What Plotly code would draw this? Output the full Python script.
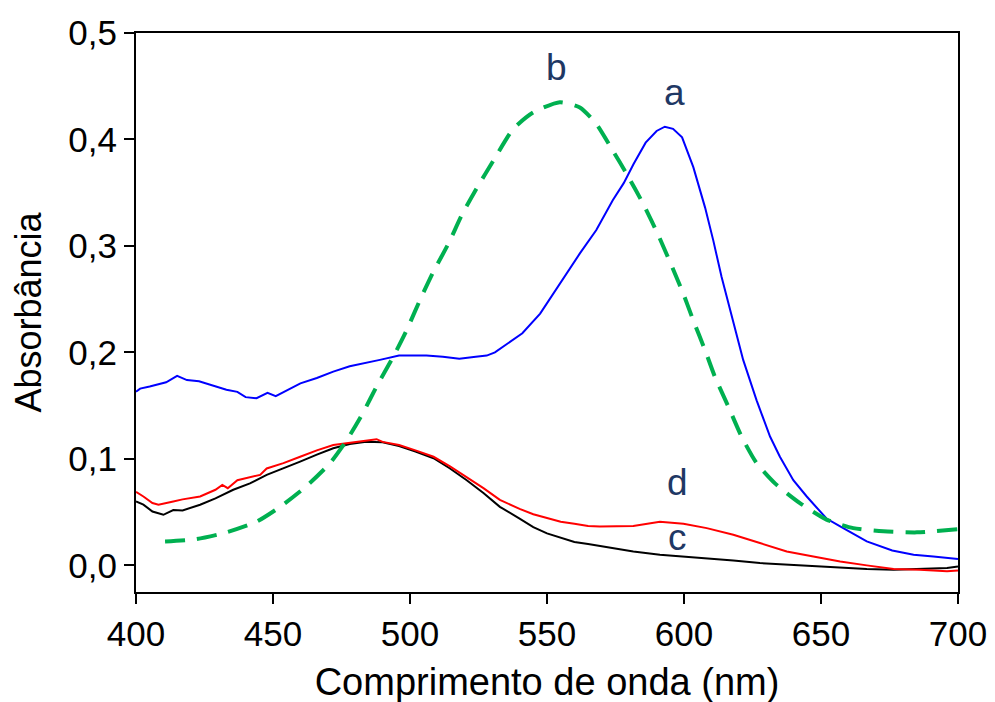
import plotly.graph_objects as go

# Curve a (blue)
a_x = [400, 401.5, 405, 411, 415, 418.6, 423, 428, 433, 437, 440, 444, 448, 451, 456, 460, 466, 472, 478, 484,
       489, 496, 502, 506, 512, 518, 524, 528, 531, 535, 541, 547.5, 554.7, 562, 568, 574, 578, 581.6, 586, 590,
       593, 596, 599.3, 603.4, 607.7, 610.7, 613.7, 618, 621.6, 626.5, 631.4, 635, 639.9, 644.8, 649, 652,
       657, 666.7, 676, 683.8, 691, 700]
a_y = [0.163, 0.166, 0.168, 0.172, 0.178, 0.174, 0.173, 0.169, 0.165, 0.163, 0.158, 0.157, 0.162, 0.159, 0.166,
       0.171, 0.176, 0.182, 0.187, 0.190, 0.193, 0.197, 0.197, 0.197, 0.196, 0.194, 0.196, 0.197, 0.200, 0.207,
       0.218, 0.2365, 0.2647, 0.293, 0.315, 0.343, 0.359, 0.377, 0.397, 0.408, 0.412, 0.410, 0.402, 0.374,
       0.336, 0.305, 0.271, 0.227, 0.193, 0.155, 0.121, 0.102, 0.080, 0.0647, 0.052, 0.044, 0.0366, 0.0225,
       0.014, 0.010, 0.0084, 0.006]

# Curve b (green dashed)
b_x = [410.6, 422, 433, 444, 452.6, 462, 470.8, 477, 483, 487.8, 493.9, 498.8, 503.6, 508.5, 514, 518.9, 524.3,
       530.4, 537.7, 545, 554.7, 562, 568, 574, 579, 585, 591, 599.3, 603.4, 607.7, 611.3, 616.2, 621, 626.5,
       633.2, 642.3, 652, 661.8, 672.8, 685, 700]
b_y = [0.0225, 0.0247, 0.031, 0.041, 0.055, 0.074, 0.096, 0.118, 0.144, 0.168, 0.196, 0.221, 0.249, 0.2756,
       0.302, 0.329, 0.354, 0.380, 0.410, 0.4255, 0.435, 0.430, 0.4146, 0.3896, 0.368, 0.340, 0.308, 0.258,
       0.230, 0.202, 0.177, 0.149, 0.121, 0.096, 0.077, 0.0585, 0.043, 0.035, 0.032, 0.031, 0.034]

# Curve c (black)
c_x = [400, 402.7, 406, 410, 413.6, 417, 423.4, 429, 435.5, 441.6, 447.7, 453.8, 459.9, 466, 472, 478, 484, 490,
       496, 502, 508.6, 514.6, 520.7, 526.8, 532.8, 540, 545, 550, 555, 560, 565, 569.3, 581.5, 591.2, 599.8,
       608.3, 618, 627.7, 637.5, 647.2, 657, 666.7, 676.5, 686, 696, 700]
c_y = [0.060, 0.057, 0.0506, 0.0475, 0.052, 0.0516, 0.057, 0.063, 0.071, 0.077, 0.085, 0.091, 0.0975, 0.104,
       0.110, 0.114, 0.116, 0.1157, 0.112, 0.107, 0.1006, 0.091, 0.080, 0.068, 0.055, 0.044, 0.036, 0.030,
       0.026, 0.022, 0.020, 0.018, 0.013, 0.010, 0.0084, 0.007, 0.0047, 0.0022, 0.0007, -0.0009, -0.0025,
       -0.0034, -0.004, -0.003, -0.0025, -0.001]

# Curve d (red)
d_x = [400, 402.7, 406, 408.2, 413.6, 417, 423.4, 429, 431.5, 433.5, 437, 441.6, 445.3, 447.7, 453.8, 459.9, 466,
       472, 478, 484, 487.8, 490, 496, 502, 508.6, 514.6, 520.7, 526.8, 532.8, 540, 545, 550, 555, 560, 565,
       569.3, 581.5, 591.2, 599.8, 608.3, 618, 627.7, 637.5, 647.2, 657, 666.7, 676.5, 686, 696, 700]
d_y = [0.069, 0.0647, 0.0585, 0.057, 0.060, 0.062, 0.0647, 0.071, 0.0756, 0.0725, 0.080, 0.083, 0.085, 0.091,
       0.096, 0.102, 0.108, 0.113, 0.1153, 0.117, 0.1185, 0.116, 0.113, 0.108, 0.102, 0.093, 0.083, 0.0725,
       0.0616, 0.053, 0.048, 0.0447, 0.041, 0.039, 0.037, 0.0366, 0.037, 0.041, 0.039, 0.035, 0.0288, 0.021,
       0.0131, 0.0084, 0.0037, 0.0, -0.0034, -0.004, -0.0056, -0.0047]

labels = ["a", "b", "c", "d"]
label_x = [596.7, 553.6, 597.8, 597.8]
label_y = [0.444, 0.468, 0.026, 0.078]

x_ticks = [400, 450, 500, 550, 600, 650, 700]
y_ticks = [0.0, 0.1, 0.2, 0.3, 0.4, 0.5]

FONT = "Liberation Sans, Arial, sans-serif"

fig = go.Figure()
fig.add_trace(go.Scatter(x=c_x, y=c_y, mode="lines", line=dict(color="#000000", width=2), name="c"))
fig.add_trace(go.Scatter(x=d_x, y=d_y, mode="lines", line=dict(color="#FF0000", width=2), name="d"))
fig.add_trace(go.Scatter(x=a_x, y=a_y, mode="lines", line=dict(color="#0000FF", width=2), name="a"))
fig.add_trace(go.Scatter(x=b_x, y=b_y, mode="lines", line=dict(color="#00B050", width=4, dash="20px,12px", shape="spline", smoothing=0.6), name="b"))

for t, x, y in zip(labels, label_x, label_y):
    fig.add_annotation(x=x, y=y, text=t, showarrow=False,
                       font=dict(family=FONT, size=37, color="#1F3864"))

fig.update_layout(
    width=995, height=702,
    margin=dict(l=128, r=45, t=25, b=118),
    paper_bgcolor="white", plot_bgcolor="white",
    showlegend=False,
    separators=",.",
    font=dict(family=FONT, color="black"),
)
fig.update_xaxes(range=[400, 700], tickvals=x_ticks, ticks="outside", ticklen=10, tickwidth=2,
                 tickcolor="black", showline=True, linewidth=2, linecolor="black", mirror=True,
                 showgrid=False, zeroline=False, tickfont=dict(size=35, family=FONT), automargin=False,
                 title=dict(text="Comprimento de onda (nm)", font=dict(size=38, family=FONT), standoff=16))
fig.update_yaxes(range=[-0.025, 0.5], tickvals=y_ticks, tickformat=".1f", ticks="outside", ticklen=10,
                 tickwidth=2, tickcolor="black", showline=True, linewidth=2, linecolor="black", mirror=True,
                 showgrid=False, zeroline=False, tickfont=dict(size=35, family=FONT), automargin=False,
                 title=dict(text="Absorbância", font=dict(size=36, family=FONT), standoff=20))

fig.write_html("out.html")
